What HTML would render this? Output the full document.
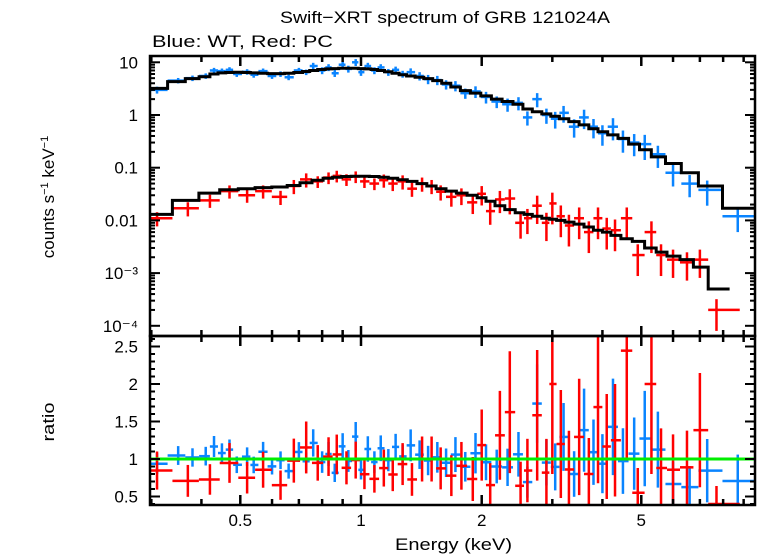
<!DOCTYPE html>
<html><head><meta charset="utf-8">
<style>
html,body{margin:0;padding:0;background:#fff;}
svg{display:block;font-family:"Liberation Sans",sans-serif;}
</style></head>
<body>
<svg id="chart" width="758" height="556" viewBox="0 0 758 556">
<defs>
<clipPath id="clipTop"><rect x="150" y="56" width="605" height="280"/></clipPath>
<clipPath id="clipBot"><rect x="150" y="336" width="605" height="169"/></clipPath>
</defs>
<text x="280" y="23" font-size="17" textLength="330" lengthAdjust="spacingAndGlyphs">Swift−XRT spectrum of GRB 121024A</text>
<text x="152" y="47" font-size="17" textLength="181" lengthAdjust="spacingAndGlyphs">Blue: WT, Red: PC</text>
<text transform="translate(54,197) rotate(-90)" text-anchor="middle" font-size="17">counts s<tspan font-size="11" dy="-6">−1</tspan><tspan dy="6"> keV</tspan><tspan font-size="11" dy="-6">−1</tspan></text>
<text transform="translate(54,422) rotate(-90)" text-anchor="middle" font-size="17" textLength="39" lengthAdjust="spacingAndGlyphs">ratio</text>
<text x="395" y="550" font-size="17" textLength="117" lengthAdjust="spacingAndGlyphs">Energy (keV)</text>
<g id="gTop" clip-path="url(#clipTop)"></g>
<g id="gBot" clip-path="url(#clipBot)"></g>
<g id="gAxes"></g>
</svg>
<script>
const blueE=[0.31,0.35,0.38,0.41,0.43,0.45,0.47,0.49,0.52,0.54,0.57,0.6,0.63,0.66,0.7,0.73,0.76,0.8,0.83,0.86,0.9,0.93,0.97,1.0,1.04,1.08,1.12,1.17,1.22,1.27,1.33,1.4,1.47,1.55,1.63,1.72,1.82,1.93,2.05,2.18,2.32,2.47,2.6,2.75,2.9,3.05,3.2,3.4,3.6,3.8,4.0,4.25,4.5,4.8,5.1,5.5,6.0,6.6,7.3,8.7];
const blueVal=[3.0,4.5,5.0,5.5,7.0,6.8,7.2,6.0,6.6,5.8,6.8,5.5,6.0,5.2,7.0,6.5,8.5,7.0,8.0,6.2,9.0,7.5,10,6.5,8.5,7.0,8.0,6.5,7.2,6.0,6.5,5.5,4.8,4.6,3.8,3.6,2.6,2.8,2.2,1.8,1.6,1.7,0.9,2.0,1.0,0.85,1.1,0.6,0.9,0.6,0.45,0.6,0.35,0.3,0.28,0.18,0.08,0.05,0.038,0.012];
const blueModel=[3.2,4.3,4.9,5.3,6.0,6.3,6.4,6.5,6.4,6.3,6.2,6.1,6.1,6.2,6.4,6.7,7.0,7.3,7.5,7.6,7.7,7.7,7.7,7.6,7.5,7.3,7.0,6.6,6.2,5.8,5.5,5.2,4.9,4.5,4.0,3.4,2.9,2.6,2.3,2.0,1.8,1.6,1.3,1.15,1.05,0.95,0.85,0.75,0.65,0.55,0.48,0.42,0.36,0.28,0.22,0.16,0.12,0.08,0.045,0.017];
const blueErr=[0.15,0.12,0.12,0.12,0.12,0.12,0.12,0.12,0.12,0.12,0.12,0.12,0.12,0.12,0.12,0.12,0.15,0.15,0.15,0.15,0.15,0.15,0.15,0.15,0.15,0.15,0.15,0.15,0.15,0.15,0.18,0.18,0.2,0.2,0.2,0.22,0.22,0.25,0.25,0.25,0.28,0.28,0.3,0.3,0.32,0.35,0.35,0.38,0.4,0.4,0.42,0.45,0.45,0.45,0.5,0.45,0.45,0.45,0.5,0.5];
const redE=[0.31,0.37,0.42,0.47,0.52,0.57,0.63,0.68,0.73,0.78,0.83,0.87,0.92,0.97,1.02,1.08,1.14,1.2,1.27,1.34,1.42,1.5,1.58,1.68,1.78,1.9,2.0,2.1,2.22,2.35,2.5,2.6,2.75,2.9,3.0,3.15,3.3,3.5,3.7,3.9,4.1,4.3,4.6,4.9,5.3,5.6,6.0,6.5,7.0,7.7];
const redVal=[0.011,0.017,0.024,0.036,0.03,0.036,0.028,0.045,0.06,0.055,0.065,0.07,0.06,0.068,0.055,0.05,0.058,0.05,0.055,0.04,0.05,0.045,0.035,0.028,0.03,0.022,0.032,0.015,0.025,0.026,0.009,0.011,0.019,0.009,0.021,0.012,0.008,0.011,0.006,0.011,0.007,0.0065,0.011,0.0022,0.006,0.0022,0.0018,0.0016,0.0018,0.0002];
const redModel=[0.013,0.024,0.033,0.038,0.040,0.042,0.043,0.046,0.052,0.058,0.063,0.066,0.068,0.069,0.069,0.068,0.066,0.063,0.059,0.055,0.05,0.045,0.04,0.036,0.033,0.03,0.027,0.023,0.019,0.016,0.014,0.013,0.012,0.011,0.0105,0.01,0.0093,0.0085,0.0075,0.0065,0.006,0.0052,0.0045,0.004,0.003,0.0025,0.0021,0.0018,0.0013,0.0005];
const redErr=[0.3,0.3,0.28,0.28,0.28,0.28,0.3,0.3,0.3,0.25,0.25,0.25,0.25,0.25,0.25,0.25,0.28,0.28,0.3,0.3,0.3,0.3,0.32,0.35,0.35,0.4,0.4,0.45,0.45,0.5,0.5,0.5,0.55,0.55,0.6,0.6,0.6,0.6,0.6,0.6,0.6,0.6,0.6,0.6,0.6,0.6,0.55,0.55,0.55,0.6];
const topTicks=[10,1,0.1,0.01,0.001,0.0001];
const topTickLabels=["10","1","0.1","0.01","10⁻³","10⁻⁴"];
const ratioTicks=[0.5,1,1.5,2,2.5];
const xTicks=[0.5,1,2,5];

const NS="http://www.w3.org/2000/svg";
const L=150,R=755,T=56,M=336,B=505;
const xs=e=>361+401*Math.log10(e);
const yTop=v=>115-52.7*Math.log10(v);
const yBot=r=>459-75*(r-1);
function el(tag,attrs,parent){const e=document.createElementNS(NS,tag);for(const k in attrs)e.setAttribute(k,attrs[k]);parent.appendChild(e);return e;}
const gTop=document.getElementById('gTop'),gBot=document.getElementById('gBot'),gA=document.getElementById('gAxes');

function edges(E,lastHi){const lo=[],hi=[];for(let i=0;i<E.length;i++){lo.push(i===0?E[0]*E[0]/Math.sqrt(E[0]*E[1]):Math.sqrt(E[i-1]*E[i]));hi.push(i===E.length-1?lastHi:Math.sqrt(E[i]*E[i+1]));}return [lo,hi];}

function series(E,V,Mo,Er,color,lastHi,name){
  const [lo,hi]=edges(E,lastHi);
  for(let i=0;i<E.length;i++){
    const g=el('g',{},gTop);
    
    
    const y=yTop(V[i]);
    el('line',{x1:xs(lo[i]),x2:xs(hi[i]),y1:y,y2:y,stroke:color,'stroke-width':2.5},g);
    el('line',{x1:xs(E[i]),x2:xs(E[i]),y1:yTop(V[i]*(1+Er[i])),y2:yTop(Math.max(V[i]*(1-Er[i]),1e-6)),stroke:color,'stroke-width':2.5},g);
    const r=V[i]/Mo[i];
    const g2=el('g',{},gBot);
    
    
    const yr=yBot(r);
    el('line',{x1:xs(lo[i]),x2:xs(hi[i]),y1:yr,y2:yr,stroke:color,'stroke-width':2.5},g2);
    el('line',{x1:xs(E[i]),x2:xs(E[i]),y1:yBot(r*(1+Er[i])),y2:yBot(r*(1-Er[i])),stroke:color,'stroke-width':2.5},g2);
  }
  return [lo,hi];
}
function model(E,Mo,lo,hi,name){
  let d='';
  for(let i=0;i<E.length;i++){const y=yTop(Mo[i]);d+=(i===0?'M':'L')+xs(lo[i]).toFixed(1)+','+y.toFixed(1)+'L'+xs(hi[i]).toFixed(1)+','+y.toFixed(1);}
  const p=el('path',{d:d,fill:'none',stroke:'#000','stroke-width':3},gTop);
  
  
}
const [bl,bh]=series(blueE,blueVal,blueModel,blueErr,'#0a84ff',9.8,'wt');
const [rl,rh]=series(redE,redVal,redModel,redErr,'#ff0000',8.8,'pc');
model(blueE,blueModel,bl,bh,'wt-model');
model(redE,redModel,rl,rh.map((h,i)=>i===rh.length-1?8.3:h),'pc-model');
const gl=el('line',{x1:L,x2:R,y1:yBot(1),y2:yBot(1),stroke:'#00ee00','stroke-width':3},gBot);



const f1=el('rect',{x:L,y:T,width:R-L,height:M-T,fill:'none',stroke:'#000','stroke-width':2.5},gA);


const f2=el('rect',{x:L,y:M,width:R-L,height:B-M,fill:'none',stroke:'#000','stroke-width':2.5},gA);


const minor=[0.3,0.4,0.5,0.6,0.7,0.8,0.9,1,2,3,4,5,6,7,8,9];
minor.forEach(e=>{const x=xs(e);const maj=xTicks.includes(e)||e===1;const len=maj?10:6;
  [[T,1],[M,-1],[M,1],[B,-1]].forEach(([y0,s])=>{el('line',{x1:x,x2:x,y1:y0,y2:y0+s*len,stroke:'#000','stroke-width':2.5},gA);});});
xTicks.forEach(e=>{const t=el('text',{x:xs(e),y:526,'text-anchor':'middle','font-size':17},gA);t.textContent=String(e);
  
  });
for(let d=-4;d<=1;d++){for(let k=1;k<10;k++){const v=k*Math.pow(10,d);const y=yTop(v);if(y<T||y>M)continue;const len=k===1?10:5;
  el('line',{x1:L,x2:L+len,y1:y,y2:y,stroke:'#000','stroke-width':2},gA);el('line',{x1:R,x2:R-len,y1:y,y2:y,stroke:'#000','stroke-width':2},gA);}}
topTicks.forEach((v,i)=>{const t=el('text',{x:138,y:yTop(v)+6,'text-anchor':'end','font-size':17},gA);t.textContent=topTickLabels[i];
  
  });
for(let r=0.4;r<=2.65;r+=0.1){const y=yBot(r);if(y<M||y>B)continue;const maj=Math.abs(r*2-Math.round(r*2))<1e-6;const len=maj?10:5;
  el('line',{x1:L,x2:L+len,y1:y,y2:y,stroke:'#000','stroke-width':2},gA);el('line',{x1:R,x2:R-len,y1:y,y2:y,stroke:'#000','stroke-width':2},gA);}
ratioTicks.forEach(v=>{const t=el('text',{x:138,y:yBot(v)+6,'text-anchor':'end','font-size':17},gA);t.textContent=String(v);
  
  });
</script>
</body></html>
